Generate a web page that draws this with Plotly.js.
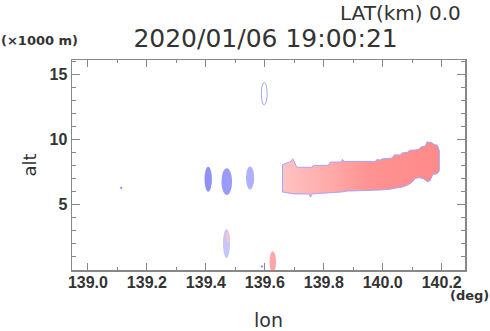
<!DOCTYPE html>
<html>
<head>
<meta charset="utf-8">
<script src="https://cdn.plot.ly/plotly-3.0.1.min.js"></script>
<style>html,body{margin:0;padding:0;background:#fff;}</style>
</head>
<body>
<div id="chart" style="width:490px;height:331px;"></div>
<script>
// Main echo band outline (lon, alt)
var bandLon = [139.660,139.660,139.672,139.685,139.695,139.700,139.708,139.760,139.765,139.815,139.822,139.860,139.863,139.870,139.975,139.980,139.990,140.000,140.030,140.040,140.060,140.065,140.085,140.090,140.120,140.130,140.145,140.150,140.165,140.175,140.185,140.192,140.192,140.185,140.170,140.160,140.150,140.140,140.125,140.110,140.100,140.085,140.070,140.045,140.020,139.990,139.900,139.880,139.860,139.820,139.790,139.760,139.755,139.750,139.700,139.680,139.660];
var bandAlt = [5.95,8.05,8.15,8.25,8.50,8.20,7.85,7.85,8.00,8.00,8.25,8.25,8.45,8.30,8.30,8.45,8.40,8.50,8.55,8.80,8.80,8.95,9.00,9.15,9.20,9.40,9.50,9.80,9.75,9.60,9.55,9.10,7.60,7.35,7.30,6.80,6.75,6.95,7.05,7.00,6.70,6.50,6.35,6.25,6.15,6.10,6.05,6.02,5.95,5.90,5.85,5.80,5.55,5.80,5.80,5.85,5.95];

// Isolated echo cells: centre lon, centre alt, half-width (deg), half-height (km)
var cellLon   = [139.408, 139.471, 139.550, 139.470, 139.475, 139.627];
var cellAlt   = [6.93,    6.75,    7.03,    1.98,    2.50,    0.55];
var cellHalfX = [0.0125,  0.018,   0.014,   0.012,   0.006,   0.011];
var cellHalfY = [0.96,    1.03,    0.88,    1.10,    0.45,    0.85];
var cellColor = ['#9090f6','#9a9af7','#b0b0fb','#c6c6f9','#f6c6cc','#ffa6a6'];

// Hollow cell outline
var ringLon = [139.598], ringAlt = [13.51], ringHalfX = [0.0098], ringHalfY = [0.87];

// Tiny specks
var dotLon = [139.113, 139.590];
var dotAlt = [6.28, 0.22];

var xTickVals = [139.0,139.2,139.4,139.6,139.8,140.0,140.2];
var xTickText = ['139.0','139.2','139.4','139.6','139.8','140.0','140.2'];
var yTickVals = [5,10,15];
var yTickText = ['5','10','15'];

var shapes = [];
for (var i = 0; i < cellLon.length; i++) {
  shapes.push({type:'circle', xref:'x', yref:'y', layer:'below',
    x0: cellLon[i]-cellHalfX[i], x1: cellLon[i]+cellHalfX[i],
    y0: cellAlt[i]-cellHalfY[i], y1: cellAlt[i]+cellHalfY[i],
    fillcolor: cellColor[i], line:{width:0}});
}
for (var j = 0; j < ringLon.length; j++) {
  shapes.push({type:'circle', xref:'x', yref:'y',
    x0: ringLon[j]-ringHalfX[j], x1: ringLon[j]+ringHalfX[j],
    y0: ringAlt[j]-ringHalfY[j], y1: ringAlt[j]+ringHalfY[j],
    fillcolor:'rgba(0,0,0,0)', line:{color:'#a4a4ff', width:1}});
}

var traces = [
  {x: bandLon, y: bandAlt, type:'scatter', mode:'lines', fill:'toself',
   line:{color:'#a4a4ff', width:1},
   fillgradient:{type:'horizontal', colorscale:[[0,'#ffc2c2'],[0.3,'#ffaaaa'],[0.55,'#ff9292'],[1,'#ff8a8a']]},
   hoverinfo:'skip', showlegend:false},
  {x: dotLon, y: dotAlt, type:'scatter', mode:'markers',
   marker:{color:'#7070ff', size:2}, hoverinfo:'skip', showlegend:false}
];

var tickFont = {family:'"Liberation Sans", Arial, sans-serif', size:16, color:'#333', weight:'bold'};
var layout = {
  width:490, height:331,
  margin:{l:72, r:25, t:60, b:61},
  paper_bgcolor:'#fff', plot_bgcolor:'#fff',
  showlegend:false,
  title:{text:'2020/01/06 19:00:21', x:0.542, xanchor:'center', y:0.885, yanchor:'middle',
         font:{family:'"DejaVu Sans", sans-serif', size:25, color:'#333'}},
  xaxis:{range:[138.946,140.279], tickvals:xTickVals, ticktext:xTickText,
    ticks:'inside', ticklen:7, tickwidth:1, tickcolor:'#888', mirror:'allticks',
    showline:true, linecolor:'#888', linewidth:1.5, showgrid:false, zeroline:false,
    ticklabelstandoff:-3,
    minor:{dtick:0.1, tick0:139.0, ticks:'inside', ticklen:3, tickcolor:'#888', showgrid:false},
    tickfont:tickFont,
    title:{text:'lon', standoff:28, font:{family:'"DejaVu Sans", sans-serif', size:19, color:'#333'}}},
  yaxis:{range:[-0.05,16.1], tickvals:yTickVals, ticktext:yTickText,
    ticks:'inside', ticklen:8, tickwidth:1, tickcolor:'#888', mirror:'allticks',
    showline:true, linecolor:'#888', linewidth:1.5, showgrid:false, zeroline:false,
    minor:{dtick:1, tick0:0, ticks:'inside', ticklen:4, tickcolor:'#888', showgrid:false},
    tickfont:tickFont,
    title:{text:'alt', standoff:8, font:{family:'"DejaVu Sans", sans-serif', size:18, color:'#333'}}},
  shapes: shapes,
  annotations:[
    {text:'LAT(km) 0.0', xref:'paper', yref:'paper', x:0.995, y:1.222, xanchor:'right', yanchor:'middle',
     showarrow:false, font:{family:'"DejaVu Sans", sans-serif', size:20, color:'#333'}},
    {text:'(×1000 m)', xref:'paper', yref:'paper', x:-0.186, y:1.095, xanchor:'left', yanchor:'middle',
     showarrow:false, font:{family:'"DejaVu Sans", sans-serif', size:13, color:'#333', weight:'bold'}},
    {text:'(deg)', xref:'paper', yref:'paper', x:1.066, y:-0.12, xanchor:'right', yanchor:'middle',
     showarrow:false, font:{family:'"DejaVu Sans", sans-serif', size:13, color:'#333', weight:'bold'}}
  ]
};

Plotly.newPlot('chart', traces, layout, {staticPlot:true, displayModeBar:false});
</script>
</body>
</html>
